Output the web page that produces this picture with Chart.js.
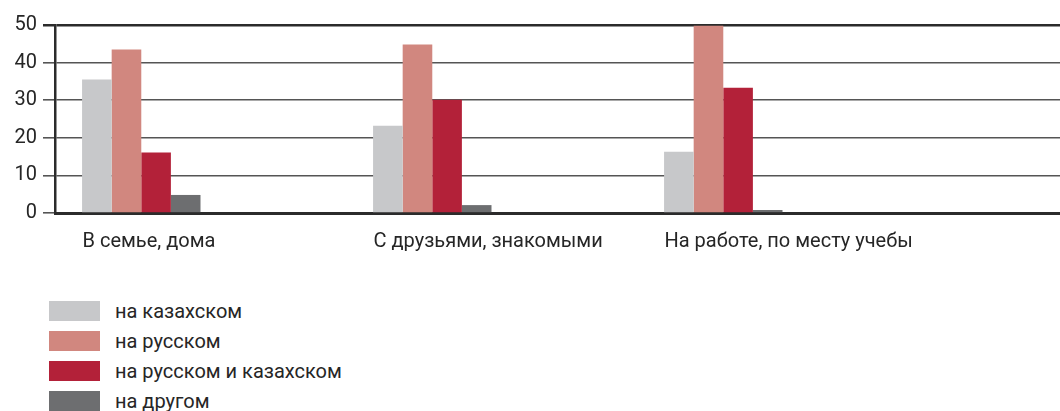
<!DOCTYPE html>
<html>
<head>
<meta charset="utf-8">
<script src="https://cdn.jsdelivr.net/npm/chart.js@4"></script>
<style>
  html, body { margin: 0; padding: 0; background: #fff; overflow: hidden; }
  #wrap { position: relative; width: 1060px; height: 411px; overflow: hidden; }
  #chart { position: absolute; left: 0; top: 0; }
  #legend { position: absolute; left: 49px; top: 301px; font-family: Roboto, sans-serif; font-size: 20px; color: #262626; }
  .item { height: 30px; display: flex; align-items: flex-start; }
  .box { width: 51px; height: 20px; margin-right: 15px; }
  .item span { line-height: 20px; }
</style>
</head>
<body>
<div id="wrap">
  <canvas id="chart" width="1219" height="265"></canvas>
  <div id="legend"></div>
</div>
<script>
// Chart data
var categories = ["В семье, дома", "С друзьями, знакомыми", "На работе, по месту учебы", ""];
var seriesNames = ["на казахском", "на русском", "на русском и казахском", "на другом"];
var seriesColors = ["#c7c8ca", "#d1877f", "#b32139", "#6d6e70"];
var kazakh = [35.5, 23.2, 16.3];
var russian = [43.5, 44.8, 49.8];
var both = [16.1, 30.1, 33.3];
var other = [4.8, 2.1, 0.8];
var yTicks = [0, 10, 20, 30, 40, 50];

var seriesValues = [kazakh, russian, both, other];

var datasets = seriesValues.map(function (vals, i) {
    return { label: seriesNames[i], data: vals, backgroundColor: seriesColors[i] };
});
// empty slots so the bars sit at the left of each category
for (var k = 0; k < 4; k++) {
    datasets.push({ label: "", data: [], backgroundColor: "transparent" });
}

var ctx = document.getElementById("chart");

var chartOptions = {
    responsive: false,
    animation: false,
    layout: { padding: { top: 25, right: 0, left: 0, bottom: 0 } },
    plugins: { legend: { display: false }, tooltip: { enabled: false } },
    scales: {
        x: {
            grid: { display: false, drawTicks: false },
            border: { color: "#2b2b2b", width: 3 },
            ticks: {
                align: "start",
                labelOffset: -118,
                padding: 17,
                color: "#262626",
                font: { family: "Roboto", size: 20 }
            },
            afterFit: function (s) { s.height = 52; }
        },
        y: {
            min: 0,
            max: 50,
            afterBuildTicks: function (s) { s.ticks = yTicks.map(function (v) { return { value: v }; }); },
            grid: {
                color: function (c) { return c.tick && c.tick.value === 50 ? "#2b2b2b" : "#555"; },
                lineWidth: function (c) { return c.tick && c.tick.value === 50 ? 2.5 : 1.6; },
                tickLength: 12
            },
            border: { color: "#2b2b2b", width: 2.5 },
            ticks: {
                padding: 6,
                color: "#262626",
                font: { family: "Roboto", size: 20 }
            },
            afterFit: function (s) { s.width = 55; }
        }
    },
    datasets: { bar: { categoryPercentage: 0.814, barPercentage: 1 } }
};

var chart = new Chart(ctx, {
    type: "bar",
    data: { labels: categories, datasets: datasets },
    options: chartOptions
});

// legend, one line per series
var legend = document.getElementById("legend");
seriesNames.forEach(function (name, i) {
    var row = document.createElement("div");
    row.className = "item";
    var box = document.createElement("div");
    box.className = "box";
    box.style.background = seriesColors[i];
    var txt = document.createElement("span");
    txt.textContent = name;
    row.appendChild(box);
    row.appendChild(txt);
    legend.appendChild(row);
});
</script>
</body>
</html>
